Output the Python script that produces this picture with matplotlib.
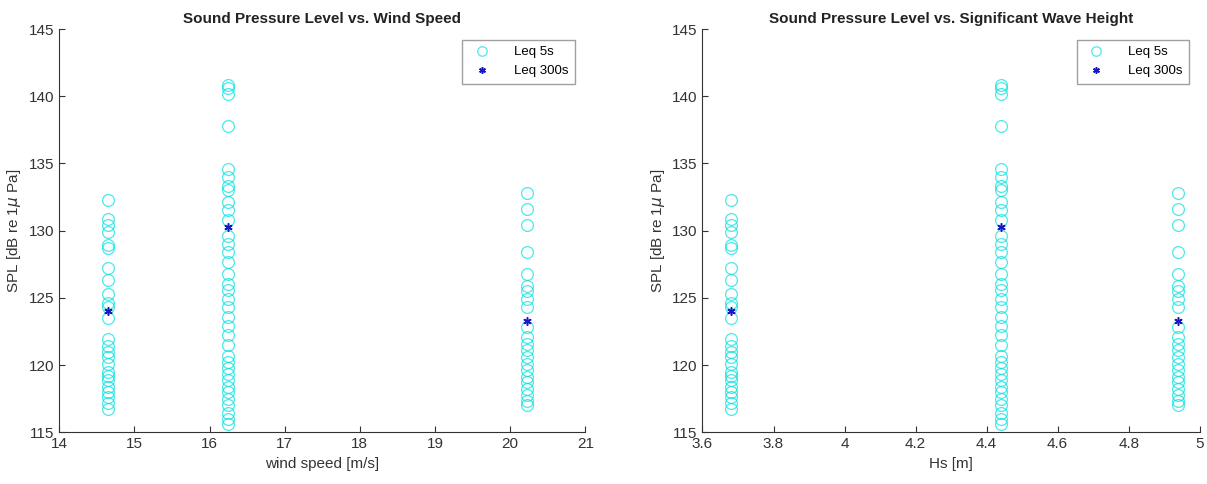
import matplotlib
matplotlib.use("Agg")
import matplotlib.pyplot as plt

plt.rcParams["font.family"] = ["Liberation Sans", "DejaVu Sans"]

# three measurement sessions
wind_speed = [14.65, 16.25, 20.22]
hs = [3.68, 4.44, 4.94]

# Leq 5s values per session
leq5_a = [132.3, 130.9, 130.4, 129.9, 128.9, 128.7, 127.2, 126.3, 125.3, 124.6,
          124.3, 123.5, 121.9, 121.4, 121.0, 120.6, 120.1, 119.5, 119.2, 118.9,
          118.4, 118.0, 117.6, 117.2, 116.7]
leq5_b = [140.8, 140.6, 140.2, 137.8, 134.6, 134.0, 133.3, 133.0, 132.1, 131.5,
          130.8, 129.6, 129.0, 128.4, 127.7, 126.8, 126.0, 125.6, 124.9, 124.3,
          123.6, 122.9, 122.2, 121.5, 120.7, 120.2, 119.8, 119.3, 118.9, 118.4,
          118.0, 117.5, 117.0, 116.4, 116.0, 115.6]
leq5_c = [132.8, 131.6, 130.4, 128.4, 126.8, 125.9, 125.5, 124.9, 124.3, 122.8,
          122.1, 121.6, 121.1, 120.6, 120.1, 119.6, 119.1, 118.7, 118.2, 117.8,
          117.3, 117.0]
leq5 = [leq5_a, leq5_b, leq5_c]

# Leq 300s per session
leq300 = [124.0, 130.3, 123.3]

fig = plt.figure(figsize=(12.07, 4.84), dpi=100)
ax1 = fig.add_axes([0.049, 0.107, 0.436, 0.833])
ax2 = fig.add_axes([0.582, 0.107, 0.412, 0.833])


def panel(ax, xs, title, xlabel, xlim, xticks, xticklabels):
    for i, x in enumerate(xs):
        ax.plot([x] * len(leq5[i]), leq5[i], "o", mfc="none", mec="#00e0e0",
                ms=8.5, mew=0.9, alpha=0.7, label="Leq 5s" if i == 0 else None)
    # matlab style asterisk
    ax.plot(xs, leq300, marker=(6, 2, 0), color="#1818c0", ms=6, mew=1.1,
            ls="none", label="Leq 300s")
    ax.set_xlim(xlim)
    ax.set_ylim(115, 145)
    ax.set_xticks(xticks)
    ax.set_xticklabels(xticklabels)
    ax.set_yticks(range(115, 146, 5))
    ax.spines["top"].set_visible(False)
    ax.spines["right"].set_visible(False)
    ax.spines["left"].set_color("#333333")
    ax.spines["bottom"].set_color("#333333")
    ax.tick_params(direction="in", labelsize=11, colors="#333333", length=4)
    ax.set_title(title, fontsize=11, fontweight="bold", color="#222222", pad=4)
    ax.set_xlabel(xlabel, fontsize=11, color="#333333")
    ax.set_ylabel(r"SPL [dB re 1$\mu$ Pa]", fontsize=11, color="#333333")
    leg = ax.legend(loc="upper right", fontsize=9.5, fancybox=False,
                    borderaxespad=0.8, handletextpad=1.4, borderpad=0.5,
                    markerscale=0.8)
    leg.get_frame().set_edgecolor("#888888")


panel(ax1, wind_speed, "Sound Pressure Level vs. Wind Speed", "wind speed [m/s]",
      (14, 21), range(14, 22), [str(v) for v in range(14, 22)])
hs_ticks = [3.6, 3.8, 4.0, 4.2, 4.4, 4.6, 4.8, 5.0]
panel(ax2, hs, "Sound Pressure Level vs. Significant Wave Height", "Hs [m]",
      (3.6, 5.0), hs_ticks, ["3.6", "3.8", "4", "4.2", "4.4", "4.6", "4.8", "5"])

fig.savefig("out.png", dpi=100)
